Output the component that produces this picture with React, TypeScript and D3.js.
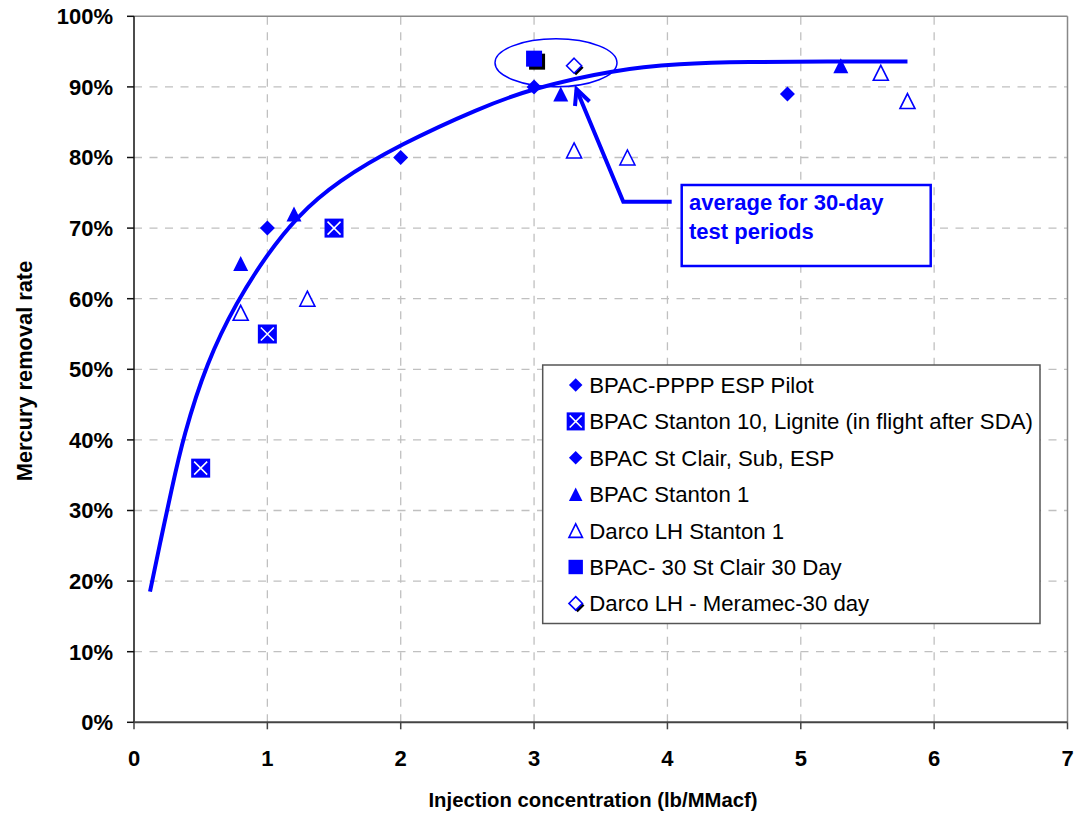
import React from "react";
import * as d3 from "d3";

const xTicks = [0, 1, 2, 3, 4, 5, 6, 7];
const yTicks = [0, 10, 20, 30, 40, 50, 60, 70, 80, 90, 100];

const ppppX = [1, 2, 3];
const ppppY = [70, 80, 90];
const stanton10X = [0.5, 1, 1.5];
const stanton10Y = [36, 55, 70];
const stClairX = [4.9];
const stClairY = [89];
const stanton1X = [0.8, 1.2, 3.2, 5.3];
const stanton1Y = [65, 72, 89, 93];
const darcoX = [0.8, 1.3, 3.3, 3.7, 5.6, 5.8];
const darcoY = [58, 60, 81, 80, 92, 88];
const bpac30X = [3];
const bpac30Y = [94];
const meramecX = [3.3];
const meramecY = [93];

const trendX = [0.12, 0.2, 0.28, 0.37, 0.545, 0.77, 0.995, 1.22, 1.52, 2.0, 2.59, 2.99, 3.59, 4.09, 4.6, 5.2, 5.8];
const trendY = [18.5, 25.8, 32.8, 40.5, 51.0, 59.6, 66.2, 71.6, 76.6, 81.9, 87.0, 89.8, 92.4, 93.3, 93.55, 93.6, 93.6];

const legendLabels = [
  "BPAC-PPPP ESP Pilot",
  "BPAC Stanton 10, Lignite (in flight after SDA)",
  "BPAC St Clair, Sub, ESP",
  "BPAC Stanton 1",
  "Darco LH Stanton 1",
  "BPAC- 30 St Clair 30 Day",
  "Darco LH - Meramec-30 day",
];
const legendKinds = ["diamond", "xbox", "diamond", "tri", "otri", "square", "odiamond"];

const BLUE = "#0000ff";
const FONT = "'Liberation Sans', Arial, Helvetica, sans-serif";

const X0 = 134, X1 = 1067.5, Y0 = 722.3, Y1 = 16.3;
const x = d3.scaleLinear().domain([0, 7]).range([X0, X1]);
const y = d3.scaleLinear().domain([0, 100]).range([Y0, Y1]);

function Marker({ kind, cx, cy, s = 1 }: { kind: string; cx: number; cy: number; s?: number }) {
  if (kind === "diamond") {
    const h = 7.5 * s;
    return <path d={`M${cx},${cy - h}L${cx + h},${cy}L${cx},${cy + h}L${cx - h},${cy}Z`} fill={BLUE} />;
  }
  if (kind === "odiamond") {
    const h = 7.5 * s;
    const d = (ox: number, oy: number) => `M${cx + ox},${cy - h + oy}L${cx + h + ox},${cy + oy}L${cx + ox},${cy + h + oy}L${cx - h + ox},${cy + oy}Z`;
    return (
      <g>
        <path d={d(2, 2)} fill="#000" />
        <path d={d(0, 0)} fill="#fff" stroke={BLUE} strokeWidth={1.6} />
      </g>
    );
  }
  if (kind === "tri" || kind === "otri") {
    const h = 7.5 * s;
    const p = `M${cx},${cy - h}L${cx + h},${cy + h}L${cx - h},${cy + h}Z`;
    return kind === "tri" ? <path d={p} fill={BLUE} /> : <path d={p} fill="#fff" stroke={BLUE} strokeWidth={1.6} />;
  }
  if (kind === "xbox") {
    const h = 9.5 * s;
    const i = h - 3;
    return (
      <g>
        <rect x={cx - h} y={cy - h} width={2 * h} height={2 * h} fill={BLUE} />
        <path d={`M${cx - i},${cy - i}L${cx + i},${cy + i}M${cx + i},${cy - i}L${cx - i},${cy + i}`} stroke="#fff" strokeWidth={1.5} />
      </g>
    );
  }
  const h = 8 * s;
  return (
    <g>
      {s === 1 && <rect x={cx - h + 3} y={cy - h + 3} width={2 * h} height={2 * h} fill="#000" />}
      <rect x={cx - h} y={cy - h} width={2 * h} height={2 * h} fill={BLUE} />
    </g>
  );
}

export default function App() {
  const line = d3
    .line<number>()
    .x((_, i) => x(trendX[i]))
    .y((d) => y(d))
    .curve(d3.curveBasis);

  const series: [number[], number[], string][] = [
    [stanton10X, stanton10Y, "xbox"],
    [darcoX, darcoY, "otri"],
    [stanton1X, stanton1Y, "tri"],
    [ppppX, ppppY, "diamond"],
    [stClairX, stClairY, "diamond"],
    [bpac30X, bpac30Y, "square"],
    [meramecX, meramecY, "odiamond"],
  ];

  const lgX = 542.7, lgY = 365, lgW = 497.3, lgH = 258.5;

  return (
    <svg width={1076} height={813} style={{ position: "absolute", left: 0, top: 0, background: "#fff" }} fontFamily={FONT}>
      <rect x={0} y={0} width={1076} height={813} fill="#fff" />
      {yTicks.filter((t) => t > 0 && t < 100).map((t) => (
        <line key={"gy" + t} x1={X0} x2={X1} y1={y(t)} y2={y(t)} stroke="#c0c0c0" strokeWidth={1.3} strokeDasharray="8,7.5" />
      ))}
      {xTicks.filter((t) => t > 0 && t < 7).map((t) => (
        <line key={"gx" + t} x1={x(t)} x2={x(t)} y1={Y0} y2={Y1} stroke="#c0c0c0" strokeWidth={1.3} strokeDasharray="8,7.5" />
      ))}
      <line x1={X0} x2={X1} y1={Y1} y2={Y1} stroke="#888" strokeWidth={1.5} />
      <line x1={X1} x2={X1} y1={Y1} y2={Y0} stroke="#888" strokeWidth={1.5} />
      <line x1={X0} x2={X0} y1={Y1} y2={Y0} stroke="#111" strokeWidth={1.5} />
      <line x1={X0} x2={X1} y1={Y0} y2={Y0} stroke="#444" strokeWidth={2} />
      {yTicks.map((t) => (
        <g key={"ty" + t}>
          <line x1={X0 - 7} x2={X0} y1={y(t)} y2={y(t)} stroke="#111" strokeWidth={1.5} />
          <text x={113} y={y(t)} dy="0.36em" textAnchor="end" fontSize={22} fontWeight="bold" fill="#000">
            {t + "%"}
          </text>
        </g>
      ))}
      {xTicks.map((t) => (
        <g key={"tx" + t}>
          <line x1={x(t)} x2={x(t)} y1={Y0} y2={Y0 + 7} stroke="#444" strokeWidth={1.5} />
          <text x={x(t)} y={765.7} textAnchor="middle" fontSize={22} fontWeight="bold" fill="#000">
            {t}
          </text>
        </g>
      ))}
      <text x={593} y={807} textAnchor="middle" fontSize={20.3} fontWeight="bold" fill="#000">
        Injection concentration (lb/MMacf)
      </text>
      <text transform="translate(31.5,371) rotate(-90)" textAnchor="middle" fontSize={21.8} fontWeight="bold" fill="#000">
        Mercury removal rate
      </text>
      <path d={line(trendY) || ""} fill="none" stroke={BLUE} strokeWidth={4} strokeLinecap="butt" />
      {series.map(([xs, ys, kind], si) =>
        xs.map((xv, i) => <Marker key={si + "-" + i} kind={kind} cx={x(xv)} cy={y(ys[i])} />)
      )}
      <ellipse cx={556} cy={62.8} rx={61} ry={24} fill="none" stroke={BLUE} strokeWidth={1.5} />
      <path d="M671.7,201.7L623.3,201.7L576.5,89.5" fill="none" stroke={BLUE} strokeWidth={4} strokeLinejoin="miter" />
      <path d="M589.5,101.5L576.5,89L575,106" fill="none" stroke={BLUE} strokeWidth={4} strokeLinejoin="miter" />
      <rect x={681.7} y={185} width={249} height={81} fill="#fff" stroke={BLUE} strokeWidth={2.5} />
      <text x={689} y={210} fontSize={22} fontWeight="bold" fill={BLUE}>average for 30-day</text>
      <text x={689} y={238.5} fontSize={22} fontWeight="bold" fill={BLUE}>test periods</text>
      <rect x={lgX} y={lgY} width={lgW} height={lgH} fill="#fff" stroke="#555" strokeWidth={1.5} />
      {legendLabels.map((lab, i) => {
        const cy = 385 + i * 36.4;
        return (
          <g key={"lg" + i}>
            <Marker kind={legendKinds[i]} cx={575.7} cy={cy} s={legendKinds[i] === "xbox" ? 0.95 : 0.9} />
            <text x={589.3} y={cy} dy="0.36em" fontSize={22.2} fill="#000">
              {lab}
            </text>
          </g>
        );
      })}
    </svg>
  );
}
